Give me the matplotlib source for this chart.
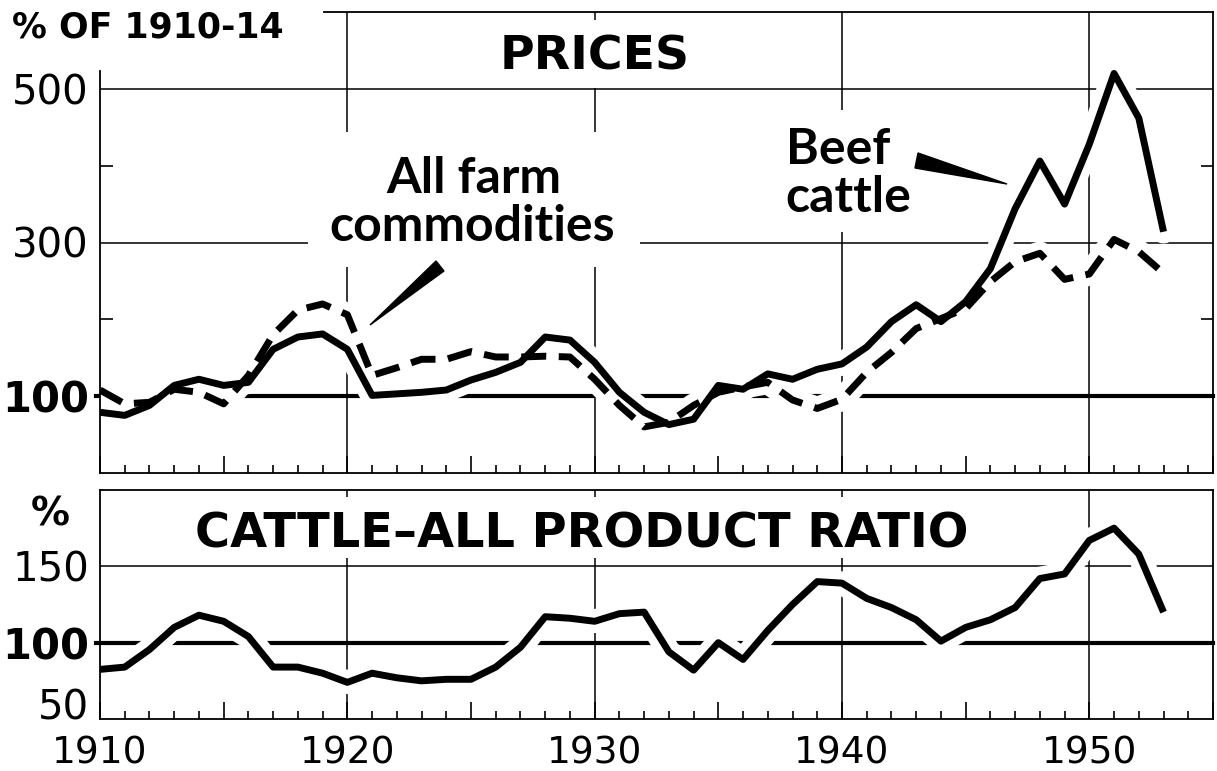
import matplotlib
matplotlib.use("Agg")
import matplotlib.pyplot as plt
from matplotlib.patches import Rectangle, Polygon
from matplotlib.ticker import MultipleLocator, FixedLocator, FuncFormatter

# ============================
# DATA
# ============================
years = list(range(1910, 1954))

beef_cattle = [79, 75, 88, 114, 122, 114, 118, 161, 177, 181,
               161, 101, 103, 105, 108, 121, 131, 144, 177, 173,
               144, 105, 79, 63, 70, 114, 109, 129, 122, 135,
               142, 164, 197, 219, 197, 223, 266, 344, 406, 350,
               428, 520, 462, 314]

all_farm = [108, 90, 92, 109, 105, 90, 127, 180, 212, 220,
            206, 127, 137, 148, 148, 158, 151, 151, 152, 151,
            122, 88, 60, 66, 88, 105, 112, 118, 95, 84,
            96, 131, 157, 188, 201, 214, 249, 275, 286, 252,
            259, 304, 288, 260]

ratio = [82.5, 84, 95.5, 110, 118, 114, 104, 84, 84, 80,
         74, 80, 77, 75, 76, 76, 84, 97, 117, 116,
         114, 119, 120, 94, 82, 100, 89, 108, 125, 140,
         139, 129, 123, 115, 101, 110, 115, 123, 142, 145,
         167, 175, 158, 120]

price_ticks = [100, 300, 500]
ratio_ticks = [50, 100, 150]
decades = [1920, 1930, 1940, 1950]

# ============================
# FIGURE
# ============================
W, H = 1217, 771
plt.rcParams['font.family'] = ['DejaVu Sans']
fig = plt.figure(figsize=(W / 100, H / 100), dpi=100)

CAPS = ['DejaVu Sans']      # wide bold face for headings and numbers
LOWER = ['Lato', 'DejaVu Sans']
HALO = 17


def px(x, y):
    return (x / W, 1 - y / H)


ax1 = fig.add_axes([100 / W, 1 - 473 / H, 1113 / W, 461 / H])
ax2 = fig.add_axes([100 / W, 1 - 719 / H, 1113 / W, 229 / H])

for ax in (ax1, ax2):
    ax.set_xlim(1910, 1955)
    for s in ax.spines.values():
        s.set_linewidth(1.3)
        s.set_zorder(7)
    ax.xaxis.set_major_locator(MultipleLocator(5))
    ax.xaxis.set_minor_locator(MultipleLocator(1))
    ax.tick_params(axis='x', which='major', direction='in', length=12, width=1.2)
    ax.tick_params(axis='x', which='minor', direction='in', length=6, width=1.2)
    for d in decades:
        ax.axvline(d, color='black', lw=1.1, zorder=1)

# ---------- top panel ----------
ax1.set_ylim(0, 600)
ax1.spines['top'].set_bounds(1919.07, 1955)
ax1.spines['left'].set_bounds(0, 523)
for v in (300, 500):
    ax1.axhline(v, color='black', lw=1.1, zorder=1)
ax1.axhline(100, xmin=-0.004, color='black', lw=3, zorder=2, clip_on=False)

ax1.set_yticks(price_ticks)
ax1.set_yticklabels([str(v) for v in price_ticks])
ax1.yaxis.set_minor_locator(FixedLocator([200, 400]))
ax1.tick_params(axis='y', which='major', length=0, pad=8, labelsize=29)
ax1.tick_params(axis='y', which='minor', direction='in', length=9, width=1.2,
                left=True, right=True)
lab = ax1.get_yticklabels()[0]
lab.set_fontweight('bold')
lab.set_fontsize(30)
ax1.tick_params(axis='x', labelbottom=False)

ax1.plot(years, all_farm, color='white', lw=HALO, zorder=3, solid_capstyle='round')
ax1.plot(years, beef_cattle, color='white', lw=HALO, zorder=3, solid_capstyle='round')
ax1.plot(years, all_farm, color='black', lw=5, zorder=4,
         linestyle=(0, (3.6, 1.8)), dash_capstyle='butt')
ax1.plot(years, beef_cattle, color='black', lw=5, zorder=4, solid_capstyle='butt')

# ---------- bottom panel ----------
ax2.set_ylim(50, 200)
ax2.axhline(150, color='black', lw=1.1, zorder=1)
ax2.axhline(100, xmin=-0.004, color='black', lw=3, zorder=2, clip_on=False)
ax2.set_yticks(ratio_ticks)
ax2.set_yticklabels([str(v) for v in ratio_ticks])
ax2.tick_params(axis='y', which='major', length=0, pad=8, labelsize=29)
labs = ax2.get_yticklabels()
labs[0].set_verticalalignment('baseline')
labs[1].set_fontweight('bold')
labs[1].set_fontsize(30)
ax2.xaxis.set_major_formatter(FuncFormatter(
    lambda v, p: f"{int(v)}" if int(v) % 10 == 0 and v < 1955 else ""))
ax2.tick_params(axis='x', which='major', pad=12, labelsize=27)

ax2.plot(years, ratio, color='white', lw=HALO, zorder=3, solid_capstyle='round')
ax2.plot(years, ratio, color='black', lw=5, zorder=4, solid_capstyle='butt')

# ============================
# LABELS / ANNOTATIONS
# ============================
# white cut-outs behind labels
for ax, (x0, y0, x1, y1) in [(ax1, (480, 20, 712, 88)),
                             (ax1, (308, 132, 640, 267)),
                             (ax1, (770, 110, 925, 232)),
                             (ax2, (180, 497, 992, 558))]:
    ax.add_patch(Rectangle(px(x0, y1), (x1 - x0) / W, (y1 - y0) / H,
                           transform=fig.transFigure, facecolor='white',
                           edgecolor='none', zorder=2.5, clip_on=False))

tf = fig.transFigure
ax1.text(*px(12, 37), "% OF 1910-14", transform=tf, fontsize=25, family=CAPS,
         fontweight='bold', ha='left', va='baseline', zorder=6)
ax1.text(*px(595, 70), "PRICES", transform=tf, fontsize=34, family=CAPS,
         fontweight='bold', ha='center', va='baseline', zorder=6)
ax1.text(*px(474, 193), "All farm", transform=tf, fontsize=36, family=LOWER,
         fontweight='bold', ha='center', va='baseline', zorder=6)
ax1.text(*px(472, 241), "commodities", transform=tf, fontsize=36, family=LOWER,
         fontweight='bold', ha='center', va='baseline', zorder=6)
ax1.text(*px(838, 164), "Beef", transform=tf, fontsize=36, family=LOWER,
         fontweight='bold', ha='center', va='baseline', zorder=6)
ax1.text(*px(848, 212), "cattle", transform=tf, fontsize=36, family=LOWER,
         fontweight='bold', ha='center', va='baseline', zorder=6)

ax1.add_patch(Polygon([px(370, 325), px(444, 271), px(436, 261)], closed=True,
                      transform=tf, facecolor='black',
                      edgecolor='black', zorder=5, clip_on=False))
ax1.add_patch(Polygon([px(1007, 184), px(918, 153), px(915, 168)], closed=True,
                      transform=tf, facecolor='black',
                      edgecolor='black', zorder=5, clip_on=False))

ax2.text(*px(50, 525), "%", transform=tf, fontsize=28, family=CAPS,
         fontweight='bold', ha='center', va='baseline', zorder=6)
ax2.text(*px(582, 547), "CATTLE–ALL PRODUCT RATIO", transform=tf,
         fontsize=34.5, family=CAPS, fontweight='bold', ha='center',
         va='baseline', zorder=6)

fig.savefig("out.png", dpi=100)
